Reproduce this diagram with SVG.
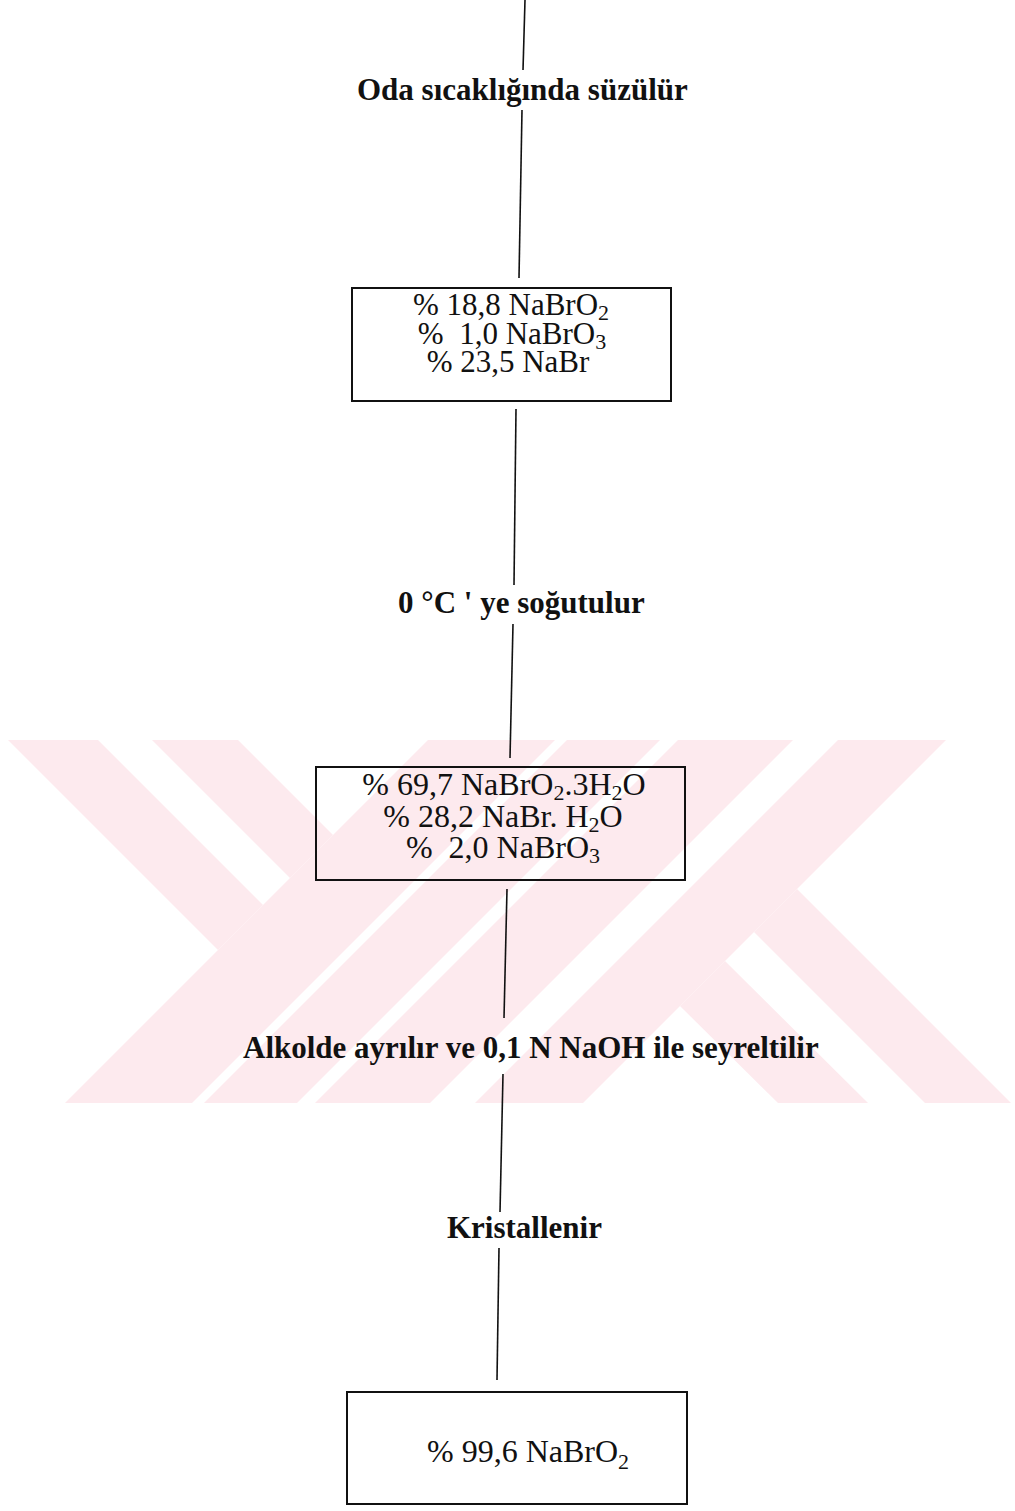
<svg xmlns="http://www.w3.org/2000/svg" width="1015" height="1511" viewBox="0 0 1015 1511">
<style>
.wm{fill:#fdeaee;stroke:none}
.box{fill:none;stroke:#111;stroke-width:2}
.conn line{stroke:#111;stroke-width:1.6}
.lbl{font-family:"Liberation Serif","Times New Roman",serif;font-weight:bold;font-size:31px;fill:#111}
.bt{font-family:"Liberation Serif","Times New Roman",serif;font-size:31px;fill:#111}
.bt2{font-family:"Liberation Serif","Times New Roman",serif;font-size:32px;fill:#111}
.sub{font-size:22px}
</style>
<rect x="0" y="0" width="1015" height="1511" fill="#ffffff"/>
<g id="watermark">
<polygon class="wm" points="8,740 98,740 263,905 218,950"/>
<polygon class="wm" points="152,740 238,740 333,835 290,878"/>
<polygon class="wm" points="428,740 555,740 192,1103 65,1103"/>
<polygon class="wm" points="567,740 660,740 297,1103 204,1103"/>
<polygon class="wm" points="678,740 793,740 430,1103 315,1103"/>
<polygon class="wm" points="838,740 946,740 583,1103 475,1103"/>
<polygon class="wm" points="680,1006 725,961 868,1103 778,1103"/>
<polygon class="wm" points="754,932 797,889 1011,1103 925,1103"/>
</g>
<g id="connectors" class="conn">
<line x1="525" y1="0" x2="523" y2="70"/>
<line x1="522" y1="110" x2="519" y2="278"/>
<line x1="516" y1="409" x2="514" y2="585"/>
<line x1="513" y1="624" x2="510" y2="758"/>
<line x1="507" y1="889" x2="504" y2="1018"/>
<line x1="503" y1="1074" x2="500" y2="1212"/>
<line x1="499" y1="1248" x2="497" y2="1380"/>
</g>
<g id="step1">
<text class="lbl" x="357" y="100" font-size="31.5">Oda sıcaklığında süzülür</text>
</g>
<g id="box1">
<rect class="box" x="352" y="288" width="319" height="113"/>
<text class="bt" x="511" y="315" text-anchor="middle" xml:space="preserve">% 18,8 NaBrO<tspan class="sub" dy="5">2</tspan></text>
<text class="bt" x="512" y="344" text-anchor="middle" xml:space="preserve">%  1,0 NaBrO<tspan class="sub" dy="5">3</tspan></text>
<text class="bt" x="508" y="372" text-anchor="middle" xml:space="preserve">% 23,5 NaBr</text>
</g>
<g id="step2">
<text class="lbl" x="398" y="613">0 °C ' ye soğutulur</text>
</g>
<g id="box2">
<rect class="box" x="316" y="767" width="369" height="113"/>
<text class="bt2" x="504" y="795" text-anchor="middle" xml:space="preserve">% 69,7 NaBrO<tspan class="sub" dy="5">2</tspan><tspan dy="-5">.3H</tspan><tspan class="sub" dy="5">2</tspan><tspan dy="-5">O</tspan></text>
<text class="bt2" x="503" y="827" text-anchor="middle" xml:space="preserve">% 28,2 NaBr. H<tspan class="sub" dy="5">2</tspan><tspan dy="-5">O</tspan></text>
<text class="bt2" x="503" y="858" text-anchor="middle" xml:space="preserve">%  2,0 NaBrO<tspan class="sub" dy="5">3</tspan></text>
</g>
<g id="step3">
<text class="lbl" x="243" y="1058" font-size="31.9">Alkolde ayrılır ve 0,1 N NaOH ile seyreltilir</text>
</g>
<g id="step4">
<text class="lbl" x="447" y="1238">Kristallenir</text>
</g>
<g id="box3">
<rect class="box" x="347" y="1392" width="340" height="112"/>
<text class="bt2" x="427" y="1462" font-size="33" xml:space="preserve">% 99,6 NaBrO<tspan class="sub" dy="7" font-size="25">2</tspan></text>
</g>
</svg>
